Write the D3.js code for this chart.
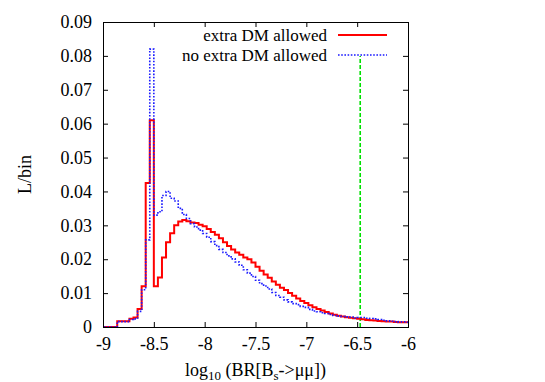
<!DOCTYPE html>
<html>
<head>
<meta charset="utf-8">
<script src="https://cdn.jsdelivr.net/npm/d3@7"></script>
<style>
body { margin:0; background:#fff; }
text { font-family:"Liberation Serif","Times New Roman",Times,serif; fill:#000; }
</style>
</head>
<body>
<svg id="hist"></svg>
<script>
// bins: centre of first bin and bin width, in log10 units
var binStart = -9
var binWidth = 0.04

// extra DM allowed (red, solid)
var extraDM = [0,0,0,0,0.0017,0.0017,0.0017,0.0024,0.0028,0.0053,
    0.012,0.0425,0.061,0.012,0.0146,0.0205,0.025,0.0277,0.0300,0.0311,
    0.0316,0.0312,0.0308,0.0307,0.0302,0.0297,0.0289,0.0280,0.0272,0.0262,
    0.0250,0.0239,0.0229,0.0220,0.0213,0.0205,0.0200,0.0190,0.0178,0.0166,
    0.0155,0.0145,0.0134,0.0125,0.0116,0.0109,0.0100,0.0092,0.0084,0.0077,
    0.0071,0.0064,0.0058,0.0053,0.0049,0.0044,0.0040,0.0036,0.0033,0.0031,
    0.0029,0.0027,0.0026,0.0024,0.0023,0.0021,0.0020,0.0019,0.0018,0.0017,
    0.0016,0.0016,0.0015,0.0014,0.0014,0.0014]

// no extra DM allowed (blue, dotted)
var noExtraDM = [0,0,0,0,0.0016,0.0016,0.0016,0.0022,0.0024,0.0046,
    0.011,0.0257,0.082,0.033,0.034,0.0388,0.0400,0.0380,0.0372,0.0350,
    0.0332,0.0320,0.0305,0.0295,0.0286,0.0276,0.0265,0.0252,0.0240,0.0229,
    0.0220,0.0210,0.0201,0.0192,0.0182,0.0169,0.0159,0.0149,0.0138,0.0128,
    0.0121,0.0112,0.0102,0.0093,0.0088,0.0080,0.0074,0.0069,0.0066,0.0061,
    0.0058,0.0052,0.0047,0.0045,0.0042,0.0040,0.0037,0.0034,0.0032,0.0031,
    0.0030,0.0029,0.0026,0.0028,0.0028,0.0026,0.0025,0.0024,0.0022,0.0020,
    0.0018,0.0017,0.0016,0.0015,0.0015,0.0014]

// vertical marker line [x, top]
var marker = [-6.47, 0.08]

var xTicks = [-9,-8.5,-8,-7.5,-7,-6.5,-6]
var yTicks = [0,0.01,0.02,0.03,0.04,0.05,0.06,0.07,0.08,0.09]
var legendNames = ["extra DM allowed","no extra DM allowed"]

var screen = {width:545,height:382}
var margins = {left:103,right:137,top:22,bottom:55}
var graph = {
    width:screen.width-margins.left-margins.right,
    height:screen.height-margins.top-margins.bottom
}
var fontSize = "18px"

var svg = d3.select("#hist")
    .attr("width",screen.width)
    .attr("height",screen.height)

var xScale = d3.scaleLinear().domain([-9,-6]).range([0,graph.width])
var yScale = d3.scaleLinear().domain([0,0.09]).range([graph.height,0])

var target = svg.append("g")
    .attr("transform","translate("+margins.left+","+margins.top+")")

target.append("clipPath").attr("id","clip")
    .append("rect").attr("width",graph.width).attr("height",graph.height)

// histeps style: step edges half a bin either side of each centre
var stepPoints = function(values)
{
    var pts = []
    values.forEach(function(v,i)
    {
        var c = binStart + i*binWidth
        pts.push([c-binWidth/2,v])
        pts.push([c+binWidth/2,v])
    })
    return pts
}

var line = d3.line()
    .x(function(d){return xScale(d[0])})
    .y(function(d){return yScale(d[1])})

var plot = target.append("g").attr("clip-path","url(#clip)")

plot.append("line")
    .attr("x1",xScale(marker[0])).attr("x2",xScale(marker[0]))
    .attr("y1",yScale(0)).attr("y2",yScale(marker[1]))
    .attr("stroke","#00e000")
    .attr("stroke-width",1.6)
    .attr("stroke-dasharray","4,2")

plot.append("path")
    .datum(stepPoints(extraDM))
    .attr("d",line)
    .attr("fill","none")
    .attr("stroke","#ff0000")
    .attr("stroke-width",2)

plot.append("path")
    .datum(stepPoints(noExtraDM))
    .attr("d",line)
    .attr("fill","none")
    .attr("stroke","#1a1aff")
    .attr("stroke-width",1.6)
    .attr("stroke-dasharray","1.6,1.6")

// axes, ticks pointing inward on all four sides
var fmtX = function(d){return String(d)}
var fmtY = function(d){return d===0 ? "0" : d3.format(".2f")(d)}

var axisStyle = function(g)
{
    g.attr("font-family",null)
    g.select(".domain").remove()
    g.selectAll(".tick line").attr("stroke","#000")
    g.selectAll(".tick text")
        .attr("fill","#000")
        .style("font-size",fontSize)
}

target.append("g")
    .attr("transform","translate(0,"+graph.height+")")
    .call(d3.axisBottom(xScale).tickValues(xTicks).tickFormat(fmtX).tickSize(-5).tickPadding(10))
    .call(axisStyle)

target.append("g")
    .call(d3.axisLeft(yScale).tickValues(yTicks).tickFormat(fmtY).tickSize(-5).tickPadding(11))
    .call(axisStyle)

target.append("g")
    .call(d3.axisTop(xScale).tickValues(xTicks).tickFormat("").tickSize(-5))
    .call(axisStyle)

target.append("g")
    .attr("transform","translate("+graph.width+",0)")
    .call(d3.axisRight(yScale).tickValues(yTicks).tickFormat("").tickSize(-5))
    .call(axisStyle)

target.append("rect")
    .attr("width",graph.width)
    .attr("height",graph.height)
    .attr("fill","none")
    .attr("stroke","#000")
    .attr("stroke-width",1)
    .attr("shape-rendering","crispEdges")

// legend
var legend = target.append("g").attr("transform","translate(224,13)")
var legendStyles = [
    {stroke:"#ff0000",width:2,dash:null},
    {stroke:"#1a1aff",width:1.6,dash:"1.6,1.6"}
]
legendNames.forEach(function(name,i)
{
    var row = legend.append("g").attr("transform","translate(0,"+(i*20)+")")
    row.append("text")
        .text(name)
        .attr("text-anchor","end")
        .attr("dy","0.35em")
        .style("font-size","17px")
    row.append("line")
        .attr("x1",11).attr("x2",60)
        .attr("stroke",legendStyles[i].stroke)
        .attr("stroke-width",legendStyles[i].width)
        .attr("stroke-dasharray",legendStyles[i].dash)
})

// axis labels
var xLabel = svg.append("text")
    .attr("x",margins.left+graph.width/2)
    .attr("y",376)
    .attr("text-anchor","middle")
    .style("font-size",fontSize)
xLabel.append("tspan").text("log")
xLabel.append("tspan").text("10").attr("dy",4).style("font-size","13px")
xLabel.append("tspan").text(" (BR[B").attr("dy",-4)
xLabel.append("tspan").text("s").attr("dy",4).style("font-size","13px")
xLabel.append("tspan").text("->\u03bc\u03bc])").attr("dy",-4)

svg.append("g")
    .attr("transform","translate(31,"+(margins.top+graph.height/2)+")")
    .append("text")
    .text("L/bin")
    .attr("text-anchor","middle")
    .attr("transform","rotate(270)")
    .style("font-size",fontSize)
</script>
</body>
</html>
